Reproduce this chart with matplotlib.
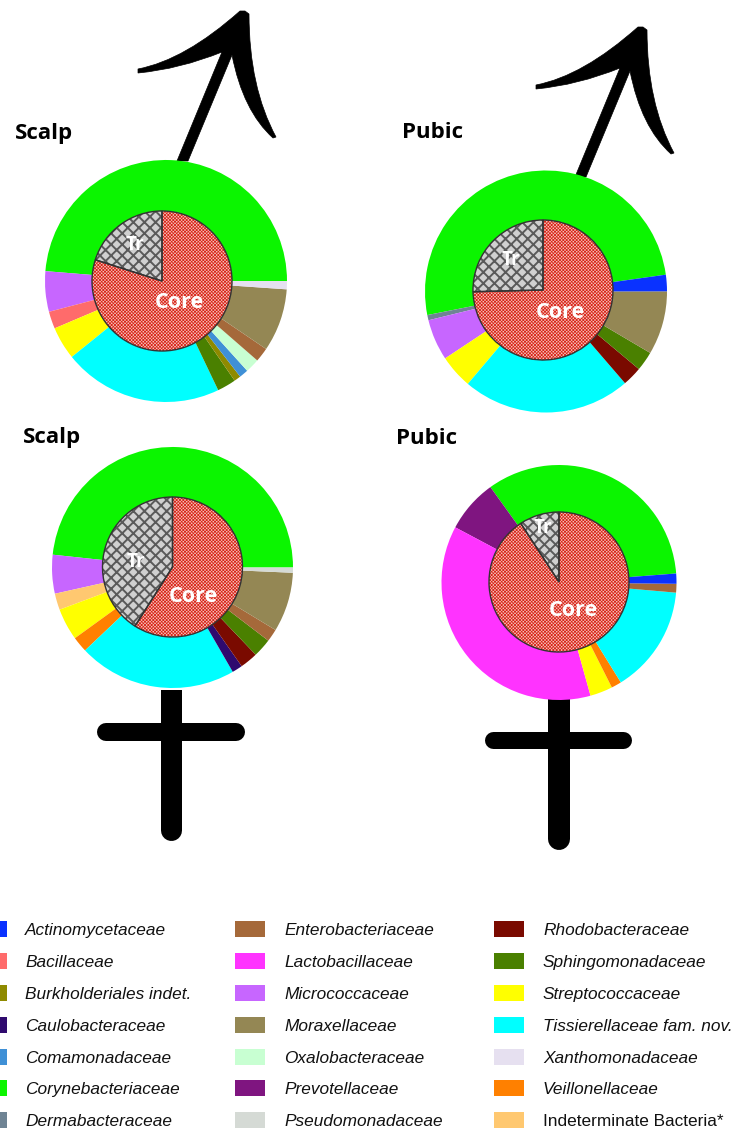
"""Core / transient family make-up by sex and site: two-ring pies with sex symbols and a shared legend."""
import matplotlib
matplotlib.use("Agg")
import matplotlib.pyplot as plt
from matplotlib.path import Path
from matplotlib.patches import PathPatch, Rectangle

W, H = 734, 1130

COLORS = {
    "Actinomycetaceae": "#0a32ff", "Bacillaceae": "#ff6b6b", "Burkholderiales indet.": "#8f8a00",
    "Caulobacteraceae": "#2f0a6e", "Comamonadaceae": "#3f90d6", "Corynebacteriaceae": "#0bf500",
    "Dermabacteraceae": "#6f8494", "Enterobacteriaceae": "#a5693a", "Lactobacillaceae": "#ff33ff",
    "Micrococcaceae": "#c766ff", "Moraxellaceae": "#948754", "Oxalobacteraceae": "#c8ffd2",
    "Prevotellaceae": "#7f1580", "Pseudomonadaceae": "#d5dad5", "Rhodobacteraceae": "#7a0a00",
    "Sphingomonadaceae": "#4a8000", "Streptococcaceae": "#ffff00", "Tissierellaceae fam. nov.": "#00ffff",
    "Xanthomonadaceae": "#e6e0f0", "Veillonellaceae": "#ff8000", "Indeterminate Bacteria*": "#ffc870",
}
LEGEND_COL1 = ["Actinomycetaceae", "Bacillaceae", "Burkholderiales indet.", "Caulobacteraceae",
               "Comamonadaceae", "Corynebacteriaceae", "Dermabacteraceae"]
LEGEND_COL2 = ["Enterobacteriaceae", "Lactobacillaceae", "Micrococcaceae", "Moraxellaceae",
               "Oxalobacteraceae", "Prevotellaceae", "Pseudomonadaceae"]
LEGEND_COL3 = ["Rhodobacteraceae", "Sphingomonadaceae", "Streptococcaceae", "Tissierellaceae fam. nov.",
               "Xanthomonadaceae", "Veillonellaceae", "Indeterminate Bacteria*"]

# outer ring shares in percent, counter-clockwise from the start angle
male_scalp_fam = ["Corynebacteriaceae", "Micrococcaceae", "Bacillaceae", "Streptococcaceae",
                  "Tissierellaceae fam. nov.", "Sphingomonadaceae", "Burkholderiales indet.", "Comamonadaceae",
                  "Oxalobacteraceae", "Enterobacteriaceae", "Moraxellaceae", "Xanthomonadaceae"]
male_scalp_val = [48.7, 5.4, 2.3, 4.4, 21.3, 2.5, 0.9, 1.2, 1.9, 1.9, 8.4, 1.1]
male_pubic_fam = ["Corynebacteriaceae", "Dermabacteraceae", "Micrococcaceae", "Streptococcaceae",
                  "Tissierellaceae fam. nov.", "Rhodobacteraceae", "Sphingomonadaceae", "Moraxellaceae",
                  "Actinomycetaceae"]
male_pubic_val = [50.9, 0.7, 5.5, 4.5, 22.5, 2.6, 2.6, 8.5, 2.2]
female_scalp_fam = ["Corynebacteriaceae", "Micrococcaceae", "Indeterminate Bacteria*", "Streptococcaceae",
                    "Veillonellaceae", "Tissierellaceae fam. nov.", "Caulobacteraceae", "Rhodobacteraceae",
                    "Sphingomonadaceae", "Enterobacteriaceae", "Moraxellaceae", "Pseudomonadaceae"]
female_scalp_val = [48.4, 5.2, 2.2, 4.3, 2.1, 21.3, 1.4, 2.4, 2.5, 1.7, 8.0, 0.7]
female_pubic_fam = ["Corynebacteriaceae", "Prevotellaceae", "Lactobacillaceae", "Streptococcaceae",
                    "Veillonellaceae", "Tissierellaceae fam. nov.", "Enterobacteriaceae", "Actinomycetaceae"]
female_pubic_val = [33.7, 7.3, 37.1, 3.1, 1.4, 14.8, 1.2, 1.4]

# transient share of the inner pie, percent
tr_share = [20.1, 25.4, 41.0, 9.2]

plt.rcParams["font.family"] = ["Open Sans", "DejaVu Sans"]
fig = plt.figure(figsize=(W / 100, H / 100), dpi=100)
ax = fig.add_axes([0, 0, 1, 1])


def yy(y):
    # positions below were measured from the top of the image
    return H - y


def ring(fam, val, start, tr, outer_xy, outer_r, inner_xy, core_xy, tr_xy):
    wedges, _ = ax.pie(val, colors=[COLORS[f] for f in fam], startangle=start, counterclock=True,
                       center=(outer_xy[0], yy(outer_xy[1])), radius=outer_r, wedgeprops={"linewidth": 0})
    for w in wedges:
        w.set_zorder(3)
    sizes = [tr, 100 - tr]
    kw = dict(startangle=90, center=(inner_xy[0], yy(inner_xy[1])), radius=70)
    fills, _ = ax.pie(sizes, colors=["#d0d0d0", "#f6c4bc"], wedgeprops={"linewidth": 0}, **kw)
    fills[0].set(hatch="xxx", edgecolor="#5a5a5a", zorder=4)
    fills[0].set_hatch_linewidth(1.4)
    fills[1].set(hatch="x" * 10, edgecolor="#d8251a", zorder=4)
    fills[1].set_hatch_linewidth(0.55)
    rims, _ = ax.pie(sizes, colors=["none", "none"], wedgeprops={"linewidth": 1.0, "edgecolor": "#333333"}, **kw)
    for w in rims:
        w.set_zorder(5)
    ax.text(core_xy[0], yy(core_xy[1]), "Core", color="white", fontweight="bold", fontsize=15.5,
            ha="center", va="center", zorder=6)
    ax.text(tr_xy[0], yy(tr_xy[1]), "Tr", color="white", fontweight="bold", fontsize=13.5,
            ha="center", va="center", zorder=6)


ring(male_scalp_fam, male_scalp_val, 0, tr_share[0], (166, 281), 121, (162, 281), (179, 303), (135, 245))
ring(male_pubic_fam, male_pubic_val, 8, tr_share[1], (546, 291.5), 121, (543, 290), (560, 313), (511, 260))
ring(female_scalp_fam, female_scalp_val, 0, tr_share[2], (172.5, 567.5), 120.5, (172.5, 567), (193, 596), (136, 562))
ring(female_pubic_fam, female_pubic_val, 4.4, tr_share[3], (559, 582.5), 117.5, (559, 582), (573, 610), (543, 528))


def male_symbol(tx, ty):
    # outline relative to the tip of the arrow
    pts = [(0, 0), (-5, 0), (-60, 49), (-107, 58), (-107, 60), (-107, 62), (-65, 58), (-23, 41),
           (-68, 150), (-57, 150), (-13, 44), (-2, 100), (28, 127), (31, 126), (4, 76), (4, 3), (0, 0)]
    codes = [Path.MOVETO, Path.LINETO, Path.CURVE3, Path.CURVE3, Path.LINETO, Path.LINETO, Path.CURVE3, Path.CURVE3,
             Path.LINETO, Path.LINETO, Path.LINETO, Path.CURVE3, Path.CURVE3, Path.LINETO, Path.CURVE3, Path.CURVE3,
             Path.CLOSEPOLY]
    verts = [(tx + dx, yy(ty + dy)) for dx, dy in pts]
    ax.add_patch(PathPatch(Path(verts, codes), facecolor="black", edgecolor="black", linewidth=0.5, zorder=2))


def female_symbol(x0, x1, y_top, y_bot, hx0, hx1, hy0, hy1):
    xc, hw = (x0 + x1) / 2, x1 - x0
    ax.add_patch(Rectangle((x0, yy(y_top + 20)), hw, 20, facecolor="black", linewidth=0, zorder=2, snap=False))
    ax.plot([xc, xc], [yy(y_top + 15), yy(y_bot - hw / 2)], color="black", lw=hw * 0.72,
            solid_capstyle="round", zorder=2, snap=False)
    hh = hy1 - hy0
    ym = yy((hy0 + hy1) / 2)
    ax.plot([hx0 + hh / 2, hx1 - hh / 2], [ym, ym], color="black", lw=hh * 0.72, solid_capstyle="round",
            zorder=2, snap=False)


male_symbol(245, 11)
male_symbol(643, 27)
female_symbol(161, 182, 690, 841, 97, 245, 723, 741)
female_symbol(548, 570, 690, 850, 485, 632, 732, 749)

for txt, x, y in [("Scalp", 15, 134), ("Pubic", 402, 132), ("Scalp", 23, 437), ("Pubic", 396, 439)]:
    ax.text(x, yy(y), txt, fontsize=16, fontweight="bold", color="black", ha="left", va="center", zorder=6)

# legend, drawn by hand because the first column runs off the left edge
rows_y = [929, 961, 993, 1025, 1057, 1088, 1120]
for names, sx, tx in [(LEGEND_COL1, -23, 25), (LEGEND_COL2, 235, 284), (LEGEND_COL3, 494, 543)]:
    for name, y in zip(names, rows_y):
        ax.add_patch(Rectangle((sx, yy(y + 8)), 29.5, 16, facecolor=COLORS[name], linewidth=0, zorder=2))
        style = "normal" if name.startswith("Indeterminate") else "italic"
        ax.text(tx, yy(y + 6), name, fontsize=12.4, style=style, family="Liberation Sans", color="#111111",
                ha="left", va="baseline", zorder=6)

ax.set_xlim(0, W)
ax.set_ylim(0, H)
ax.set_aspect("equal")
ax.axis("off")
fig.savefig("out.png", dpi=100)
